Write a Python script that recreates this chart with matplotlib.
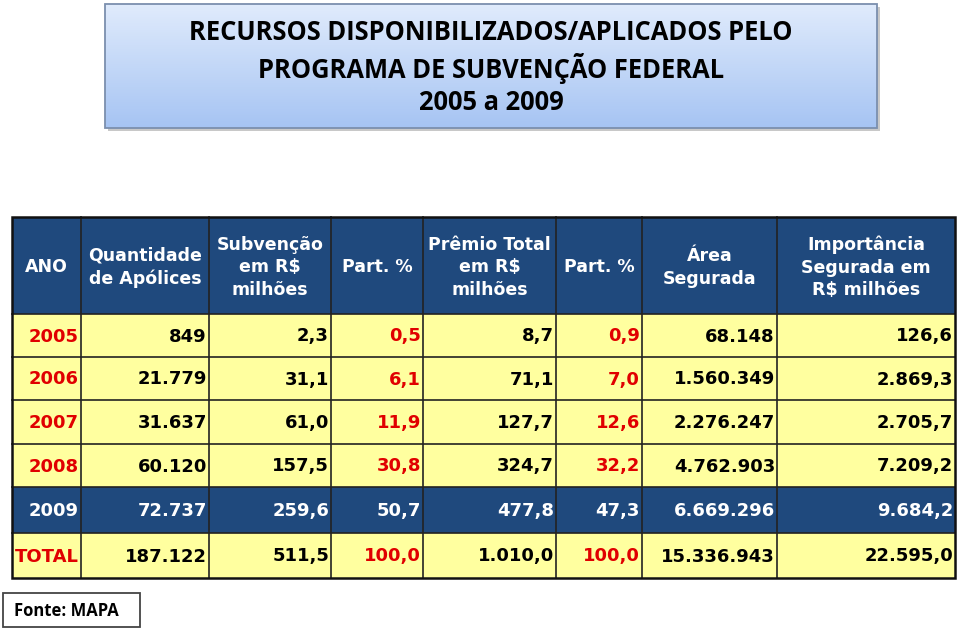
import numpy as np
import matplotlib
matplotlib.use("Agg")
import matplotlib.pyplot as plt
from matplotlib.patches import Rectangle

# ---------------- data ----------------
title_lines = ["RECURSOS DISPONIBILIZADOS/APLICADOS PELO",
               "PROGRAMA DE SUBVENÇÃO FEDERAL",
               "2005 a 2009"]
headers = ["ANO", "Quantidade\nde Apólices", "Subvenção\nem R$\nmilhões", "Part. %",
           "Prêmio Total\nem R$\nmilhões", "Part. %", "Área\nSegurada",
           "Importância\nSegurada em\nR$ milhões"]
anos = ["2005", "2006", "2007", "2008", "2009", "TOTAL"]
apolices = ["849", "21.779", "31.637", "60.120", "72.737", "187.122"]
subvencao = ["2,3", "31,1", "61,0", "157,5", "259,6", "511,5"]
part_subv = ["0,5", "6,1", "11,9", "30,8", "50,7", "100,0"]
premio = ["8,7", "71,1", "127,7", "324,7", "477,8", "1.010,0"]
part_premio = ["0,9", "7,0", "12,6", "32,2", "47,3", "100,0"]
area = ["68.148", "1.560.349", "2.276.247", "4.762.903", "6.669.296", "15.336.943"]
importancia = ["126,6", "2.869,3", "2.705,7", "7.209,2", "9.684,2", "22.595,0"]
fonte = "Fonte: MAPA"

columns = [anos, apolices, subvencao, part_subv, premio, part_premio, area, importancia]
red_cols = [0, 3, 5]        # columns drawn in red on yellow rows
highlight_row = 4           # 2009 row, navy background

# ---------------- layout ----------------
col_edges = [12, 81, 209, 331, 423, 556, 642, 777, 955]
header_top, header_bot = 217, 314
row_edges = [314, 357, 400, 444, 487, 533, 578]

NAVY = "#1f497d"
YELLOW = "#ffff9f"
RED = "#e00000"
TFONT = ["DejaVu Sans"]

fig = plt.figure(figsize=(9.59, 6.28), dpi=100)
ax = fig.add_axes([0, 0, 1, 1])
ax.set_xlim(0, 959)
ax.set_ylim(628, 0)
ax.axis("off")

# ---------- title box with gradient ----------
bx0, bx1, by0, by1 = 105, 877, 4, 128
ax.add_patch(Rectangle((bx0 + 3, by0 + 3), bx1 - bx0, by1 - by0,
                       facecolor="#c8c8c8", edgecolor="none", zorder=1))
grad = np.linspace(0, 1, 256).reshape(-1, 1)
top = np.array([0xe0, 0xeb, 0xfc]) / 255
bot = np.array([0xa6, 0xc4, 0xf3]) / 255
img = top[None, None, :] * (1 - grad[:, :, None]) + bot[None, None, :] * grad[:, :, None]
ax.imshow(img, extent=(bx0, bx1, by1, by0), aspect="auto", zorder=2)
ax.add_patch(Rectangle((bx0, by0), bx1 - bx0, by1 - by0, facecolor="none",
                       edgecolor="#7b8fae", lw=1.3, zorder=3))
for line, y in zip(title_lines, [32, 68, 103]):
    ax.text(491, y, line, ha="center", va="center", fontsize=18.4,
            family="Open Sans", fontweight="bold", color="black", zorder=4)

# ---------- header ----------
ax.add_patch(Rectangle((col_edges[0], header_top), col_edges[-1] - col_edges[0],
                       header_bot - header_top, facecolor=NAVY, edgecolor="none", zorder=1))
for j, h in enumerate(headers):
    cx = (col_edges[j] + col_edges[j + 1]) / 2
    ax.text(cx, (header_top + header_bot) / 2 + 2, h, ha="center", va="center",
            fontsize=12.5, family=TFONT, fontweight="bold", color="white",
            linespacing=1.32, zorder=4)

# ---------- body ----------
for i in range(len(anos)):
    y0, y1 = row_edges[i], row_edges[i + 1]
    fc = NAVY if i == highlight_row else YELLOW
    ax.add_patch(Rectangle((col_edges[0], y0), col_edges[-1] - col_edges[0], y1 - y0,
                           facecolor=fc, edgecolor="none", zorder=1))
    for j, col in enumerate(columns):
        if i == highlight_row:
            color = "white"
        elif j in red_cols:
            color = RED
        else:
            color = "black"
        ax.text(col_edges[j + 1] - 2, (y0 + y1) / 2 + 1, col[i], ha="right", va="center",
                fontsize=13, family=TFONT, fontweight="bold", color=color, zorder=4)

# ---------- grid lines ----------
for x in col_edges[1:-1]:
    ax.plot([x, x], [header_top, row_edges[-1]], color="#222222", lw=1.2, zorder=3)
for y in row_edges[:-1]:
    ax.plot([col_edges[0], col_edges[-1]], [y, y], color="#222222", lw=1.2, zorder=3)
ax.add_patch(Rectangle((col_edges[0], header_top), col_edges[-1] - col_edges[0],
                       row_edges[-1] - header_top, facecolor="none",
                       edgecolor="#111111", lw=1.8, zorder=3))

# ---------- source box ----------
ax.add_patch(Rectangle((3, 593), 137, 34, facecolor="white", edgecolor="#444444",
                       lw=1.3, zorder=3))
ax.text(14, 610.5, fonte, ha="left", va="center", fontsize=12, family="Open Sans",
        fontweight="bold", color="black", zorder=4)

fig.savefig("out.png", dpi=100)
